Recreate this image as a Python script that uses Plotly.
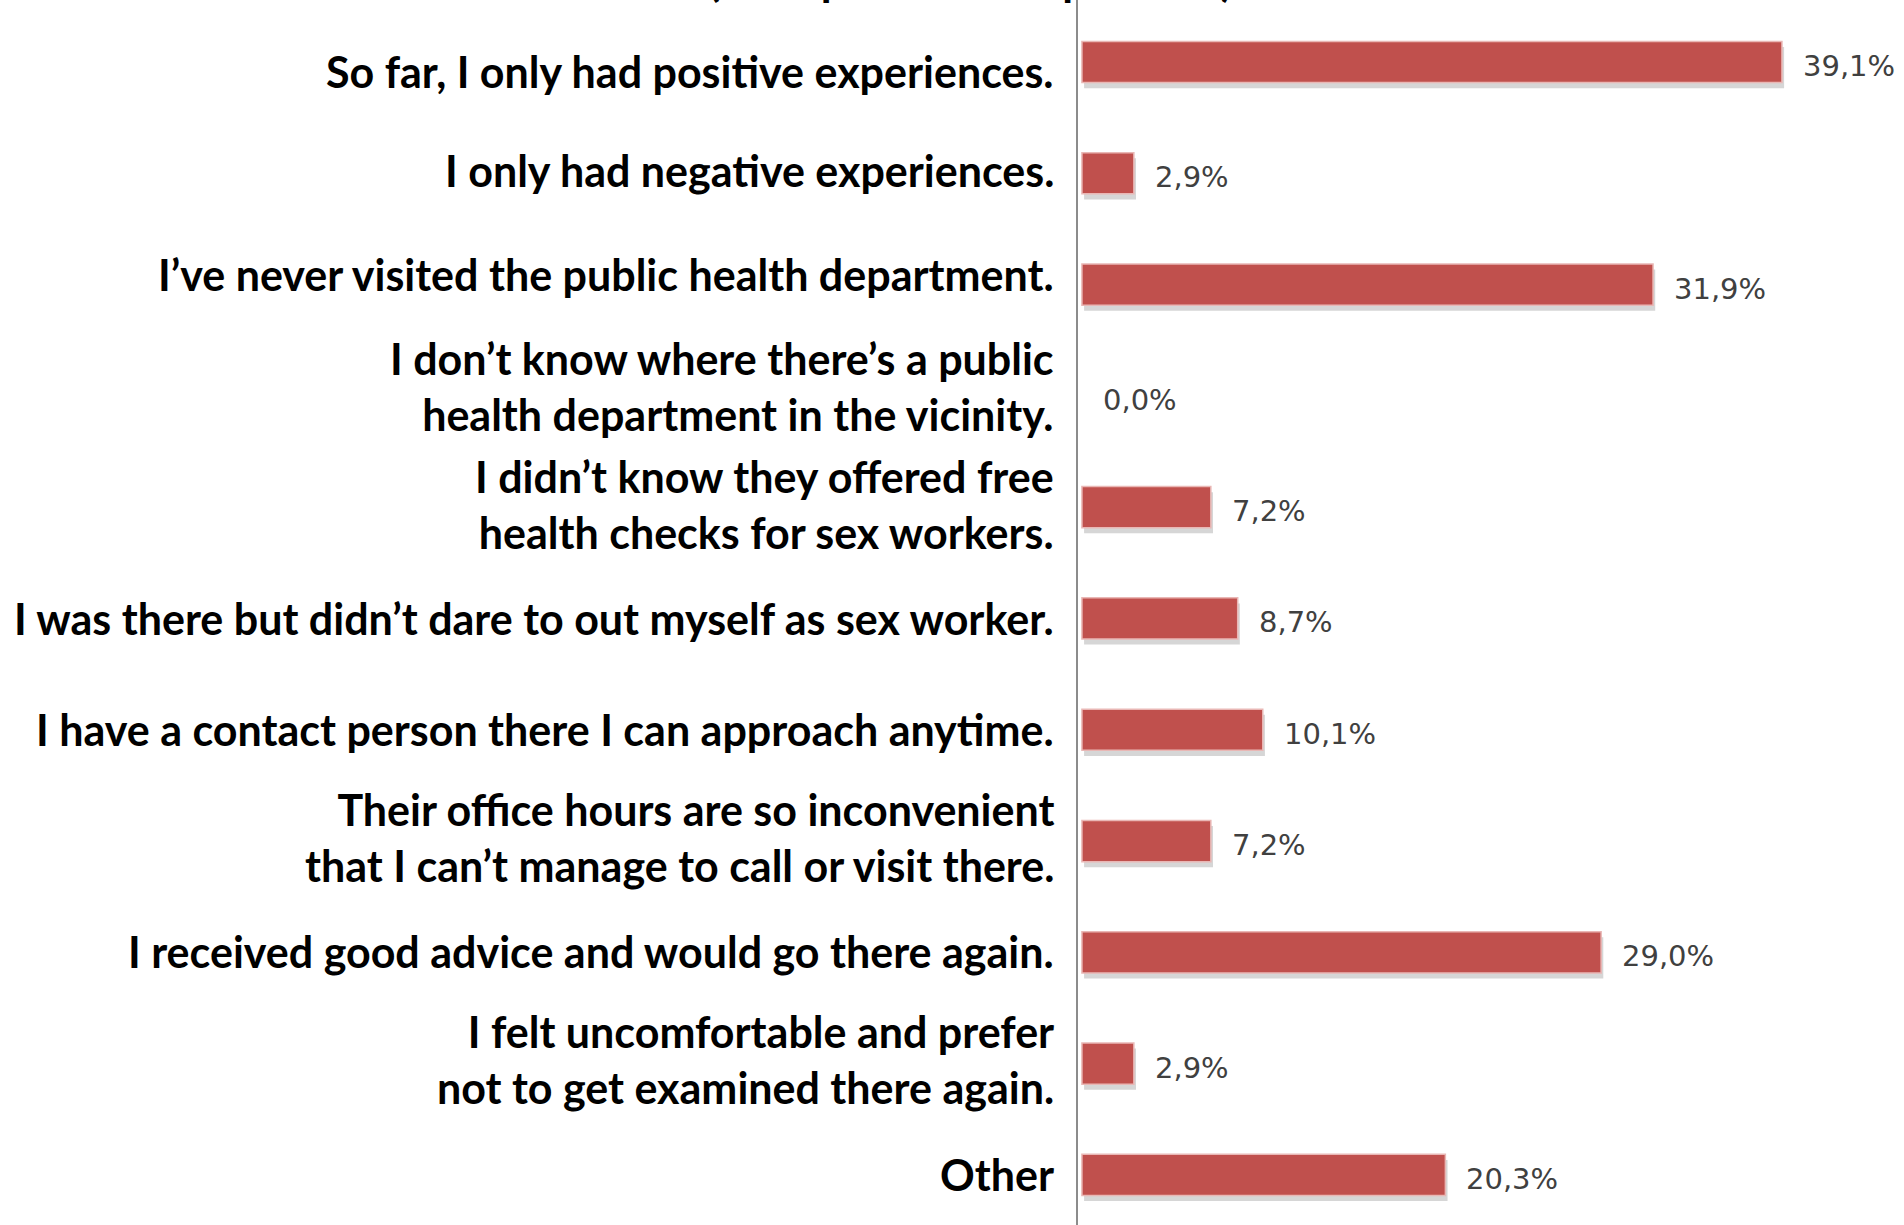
import plotly.graph_objects as go

categories = [
    "So far, I only had positive experiences.",
    "I only had negative experiences.",
    "I’ve never visited the public health department.",
    "I don’t know where there’s a public<br>health department in the vicinity.",
    "I didn’t know they offered free<br>health checks for sex workers.",
    "I was there but didn’t dare to out myself as sex worker.",
    "I have a contact person there I can approach anytime.",
    "Their office hours are so inconvenient<br>that I can’t manage to call or visit there.",
    "I received good advice and would go there again.",
    "I felt uncomfortable and prefer<br>not to get examined there again.",
    "Other",
]
values = [39.1, 2.9, 31.9, 0.0, 7.2, 8.7, 10.1, 7.2, 29.0, 2.9, 20.3]
value_labels = ["39,1%", "2,9%", "31,9%", "0,0%", "7,2%", "8,7%", "10,1%", "7,2%", "29,0%", "2,9%", "20,3%"]
title_fragment = "(multiple answers possible)"

# styling: small vertical nudges (px, up positive) of category labels as in the original
label_nudge = [-10, 3, 10, 9, 3, 0, 0, 4, 1, 4, 0]

BAR_W = 0.37
LABEL_FONT = "Lato, 'Open Sans', sans-serif"

fig = go.Figure()
# soft shadow under bars
fig.add_trace(go.Bar(
    y=categories, x=values, orientation="h", base=0.12,
    width=BAR_W, offset=-BAR_W / 2 + 0.05,
    marker=dict(color="rgba(90,90,90,0.25)", line=dict(width=0)),
    hoverinfo="skip", showlegend=False,
))
fig.add_trace(go.Bar(
    y=categories, x=values, orientation="h",
    width=BAR_W, offset=-BAR_W / 2,
    marker=dict(color="#C0504D",
                line=dict(color="#E9B7B5", width=[1.5 if v > 0 else 0 for v in values])),
    showlegend=False,
))

annotations = []
for cat, v, lab, nudge in zip(categories, values, value_labels, label_nudge):
    annotations.append(dict(
        xref="paper", x=0, xanchor="right", xshift=-22,
        yref="y", y=cat, yanchor="middle", yshift=nudge,
        text=cat, align="right", showarrow=False,
        font=dict(family=LABEL_FONT, size=43, color="#000000", weight="bold"),
    ))
    annotations.append(dict(
        xref="x", x=v, xanchor="left", xshift=19,
        yref="y", y=cat, yanchor="middle", yshift=-4,
        text=lab, showarrow=False,
        font=dict(family="DejaVu Sans, Verdana, sans-serif", size=29, color="#404040"),
    ))

annotations.append(dict(
    xref="paper", x=(970 - 1078) / 806, xanchor="center",
    yref="paper", y=1, yanchor="bottom", yshift=-7,
    text=title_fragment, showarrow=False,
    font=dict(family=LABEL_FONT, size=44, color="#000000", weight="bold"),
))

fig.update_layout(
    width=1904, height=1225,
    margin=dict(l=1078, r=20, t=0, b=0, pad=0),
    paper_bgcolor="white", plot_bgcolor="white",
    barmode="overlay",
    annotations=annotations,
    xaxis=dict(range=[-0.22, 44.8], visible=False, automargin=False, fixedrange=True),
    yaxis=dict(
        type="category", range=[10.45, -0.557], showticklabels=False,
        showline=True, linecolor="#8c8c8c", linewidth=2, mirror=False,
        showgrid=False, zeroline=False, ticks="", automargin=False,
    ),
    showlegend=False,
)

fig.write_html(
    "out.html",
    config={"displayModeBar": False},
    post_script="document.body.style.margin='0';document.body.style.overflow='hidden';",
)
